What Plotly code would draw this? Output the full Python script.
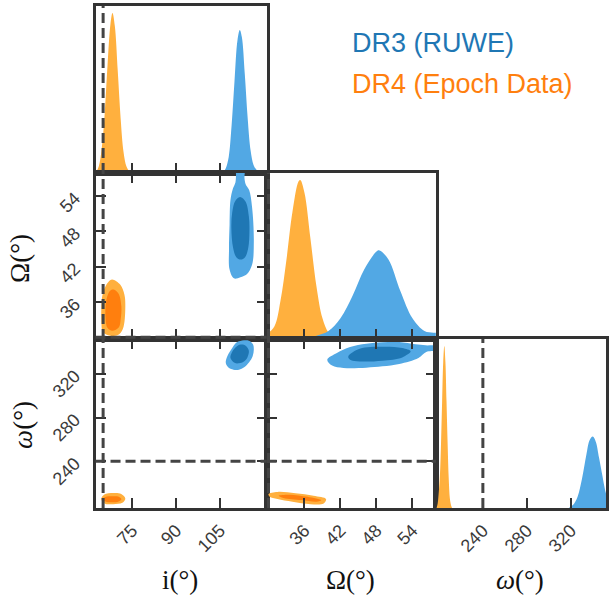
import plotly.graph_objects as go

W, H = 609, 599

# ---------------- data ----------------
# tick values
i_ticks = [75, 90, 105]
Om_ticks = [36, 42, 48, 54]
om_ticks = [240, 280, 320]

# axis ranges (deg)
i_range = [62.4, 121.0]
Om_range = [29.7, 57.9]
om_range = [197.3, 351.8]

# reference ("truth") values shown as dashed lines
i_true = 65
Om_true = 30
om_true = 240

# 1D marginals (relative density)
i_x_dr4 = [62.5, 63.5, 64.5, 65.5, 66.5, 67.5, 68.2, 69.0, 70.0, 71.0, 72.0, 73.0, 74.0, 75.0]
i_y_dr4 = [0.0, 0.04, 0.15, 0.36, 0.67, 0.93, 1.0, 0.92, 0.64, 0.34, 0.13, 0.04, 0.01, 0.0]
i_x_dr3 = [106.0, 107.0, 108.0, 109.0, 110.0, 111.0, 111.8, 112.5, 113.5, 114.5, 115.5, 116.5, 117.5, 118.5, 119.5]
i_y_dr3 = [0.0, 0.03, 0.10, 0.30, 0.58, 0.83, 0.894, 0.85, 0.62, 0.34, 0.14, 0.05, 0.02, 0.01, 0.0]

Om_x_dr4 = [29.7, 31.0, 32.0, 33.0, 34.0, 35.0, 35.3, 36.0, 37.0, 38.0, 39.0, 40.0, 41.0, 42.0]
Om_y_dr4 = [0.03, 0.08, 0.24, 0.50, 0.80, 0.99, 1.0, 0.92, 0.63, 0.33, 0.13, 0.04, 0.01, 0.0]
Om_x_dr3 = [36.0, 38.0, 40.0, 42.0, 44.0, 46.0, 48.0, 48.5, 50.0, 52.0, 54.0, 56.0, 57.5, 58.5]
Om_y_dr3 = [0.0, 0.02, 0.05, 0.13, 0.27, 0.44, 0.55, 0.557, 0.50, 0.30, 0.13, 0.05, 0.04, 0.04]

om_x_dr4 = [198.0, 199.0, 200.0, 201.0, 202.0, 203.0, 204.0, 205.0, 206.0, 207.0, 208.0, 209.0, 210.0, 211.0, 212.0]
om_y_dr4 = [0.0, 0.03, 0.10, 0.20, 0.40, 0.66, 0.90, 1.0, 0.90, 0.66, 0.40, 0.18, 0.06, 0.02, 0.0]
om_x_dr3 = [318.0, 322.0, 326.0, 330.0, 334.0, 337.0, 339.8, 342.5, 345.5, 348.5, 351.0, 354.0]
om_y_dr3 = [0.0, 0.02, 0.07, 0.18, 0.33, 0.42, 0.441, 0.41, 0.31, 0.20, 0.11, 0.04]

# 2D credible-region outlines (x, y)
iOm_dr3_outer = [(110.6, 59.0), (113.3, 59.0), (113.4, 57.0), (113.8, 56.0), (115.0, 55.0), (116.0, 52.1),
                 (116.6, 46.3), (116.0, 42.3), (114.2, 40.7), (112.0, 40.2), (109.8, 40.0), (108.3, 41.5),
                 (108.1, 45.0), (108.3, 49.2), (108.6, 53.3), (109.4, 55.2), (110.3, 56.3), (110.5, 57.5)]
iOm_dr3_inner = [(112.1, 53.8), (113.8, 53.0), (114.9, 50.5), (115.1, 48.0), (114.7, 45.2), (113.6, 43.6),
                 (112.1, 43.2), (110.6, 43.6), (109.5, 45.2), (108.9, 48.6), (109.2, 51.2), (110.3, 53.2)]
iOm_dr4_outer = [(68.1, 39.8), (70.9, 38.9), (72.3, 37.2), (72.6, 35.5), (72.0, 31.8), (70.5, 30.5),
                 (68.6, 30.2), (66.5, 30.4), (64.9, 30.9), (64.4, 33.0), (64.4, 35.2), (64.8, 37.2),
                 (65.8, 38.6), (66.8, 39.4)]
iOm_dr4_inner = [(68.6, 38.1), (70.3, 37.4), (71.25, 35.2), (71.0, 33.0), (70.4, 31.7), (68.1, 31.1),
                 (66.5, 31.6), (65.8, 33.5), (65.9, 35.5), (66.4, 36.9), (67.4, 37.9)]

iom_dr3_outer = [(111.5, 349.7), (114.9, 350.3), (116.3, 347.0), (116.6, 342.1), (116.2, 336.0), (115.0, 330.5),
                 (113.3, 326.0), (111.5, 323.7), (109.6, 323.8), (108.1, 325.2), (107.0, 329.8), (107.6, 336.5),
                 (109.2, 343.6), (110.2, 347.5)]
iom_dr3_inner = [(112.1, 346.7), (113.9, 345.5), (114.9, 341.0), (114.4, 335.0), (113.2, 331.3), (111.5, 329.6),
                 (110.0, 330.0), (108.6, 334.4), (109.0, 339.0), (110.3, 344.0)]
iom_dr4_outer = [(68.5, 211.0), (71.2, 210.2), (72.6, 206.0), (71.6, 202.0), (68.5, 200.8), (65.5, 201.5),
                 (64.4, 205.5), (65.4, 209.6)]
iom_dr4_inner = [(68.0, 208.0), (70.5, 207.4), (71.25, 205.3), (70.3, 203.2), (68.0, 202.5), (65.8, 203.2),
                 (64.8, 205.3), (65.8, 207.4)]

Omom_dr3_outer = [(39.8, 332.9), (41.4, 339.0), (43.6, 344.5), (46.3, 347.5), (49.0, 348.8), (51.8, 349.0),
                  (54.5, 347.0), (56.2, 346.0), (58.0, 345.5), (58.0, 341.5), (56.3, 340.0), (55.0, 334.5),
                  (51.8, 329.0), (49.0, 326.8), (46.3, 325.6), (42.5, 325.4), (40.6, 327.6)]
Omom_dr3_inner = [(43.3, 335.9), (45.2, 343.0), (49.0, 344.8), (52.3, 343.6), (53.7, 340.5), (52.3, 335.0),
                  (49.0, 332.0), (45.2, 331.3), (43.6, 332.9)]
Omom_dr4_outer = [(30.0, 210.0), (31.5, 212.0), (34.5, 210.8), (37.5, 208.5), (39.6, 205.5), (39.2, 201.5),
                  (37.0, 200.8), (34.0, 203.0), (31.5, 205.5), (30.2, 207.5)]
Omom_dr4_inner = [(31.7, 208.5), (33.5, 209.5), (36.5, 207.5), (38.8, 204.3), (38.0, 203.0), (35.5, 204.5),
                  (32.5, 206.5)]

labels = ["DR3 (RUWE)", "DR4 (Epoch Data)"]

# ---------------- style ----------------
BLUE_L, BLUE_D = "#52A8E4", "#1F77B4"
ORNG_L, ORNG_D = "#FFB03E", "#FF7F0E"
FRAME = "#333333"
DASH = "#444444"

cols = [(96, 268), (268, 438), (438, 609)]
rows = [(6, 173), (173, 339), (339, 508)]


def xd(c):
    return [cols[c][0] / W, cols[c][1] / W]


def yd(r):
    return [1 - rows[r][1] / H, 1 - rows[r][0] / H]


fig = go.Figure()


def hist(xs, ys, color, ax):
    fig.add_trace(go.Scatter(x=xs, y=ys, mode="lines", fill="tozeroy", fillcolor=color,
                             line=dict(width=0, shape="spline", color=color),
                             xaxis="x" + ax, yaxis="y" + ax, showlegend=False, hoverinfo="skip"))


def region(pts, color, ax):
    xs = [p[0] for p in pts] + [pts[0][0]]
    ys = [p[1] for p in pts] + [pts[0][1]]
    fig.add_trace(go.Scatter(x=xs, y=ys, mode="lines", fill="toself", fillcolor=color,
                             line=dict(width=0, shape="spline", smoothing=1.0, color=color),
                             xaxis="x" + ax, yaxis="y" + ax, showlegend=False, hoverinfo="skip"))


# panel 1: i marginal
hist(i_x_dr4, i_y_dr4, ORNG_L, "")
hist(i_x_dr3, i_y_dr3, BLUE_L, "")
# panel 2: i vs Omega
region(iOm_dr3_outer, BLUE_L, "2"); region(iOm_dr3_inner, BLUE_D, "2")
region(iOm_dr4_outer, ORNG_L, "2"); region(iOm_dr4_inner, ORNG_D, "2")
# panel 3: Omega marginal
hist(Om_x_dr4, Om_y_dr4, ORNG_L, "3")
hist(Om_x_dr3, Om_y_dr3, BLUE_L, "3")
# panel 4: i vs omega
region(iom_dr3_outer, BLUE_L, "4"); region(iom_dr3_inner, BLUE_D, "4")
region(iom_dr4_outer, ORNG_L, "4"); region(iom_dr4_inner, ORNG_D, "4")
# panel 5: Omega vs omega
region(Omom_dr3_outer, BLUE_L, "5"); region(Omom_dr3_inner, BLUE_D, "5")
region(Omom_dr4_outer, ORNG_L, "5"); region(Omom_dr4_inner, ORNG_D, "5")
# panel 6: omega marginal
hist(om_x_dr4, om_y_dr4, ORNG_L, "6")
hist(om_x_dr3, om_y_dr3, BLUE_L, "6")

tickfont = dict(family="Liberation Sans, Arial, sans-serif", size=18, color="#3a3a3a")
base = dict(showline=True, linecolor=FRAME, linewidth=3, showgrid=False, zeroline=False,
            tickcolor=FRAME, tickwidth=2, ticklen=10, tickfont=tickfont, tickangle=-45)


def xax(c, rng, tv, labels_on, mirror_ticks, anchor):
    d = dict(base, domain=xd(c), range=rng, tickvals=tv, ticks="inside",
             mirror="allticks" if mirror_ticks else True, showticklabels=labels_on, anchor=anchor,
             ticklabelstandoff=2)
    return d


def yax(r, rng, tv, labels_on, anchor, diag=False):
    d = dict(base, domain=yd(r), range=rng, anchor=anchor)
    if diag:
        d.update(ticks="", showticklabels=False, mirror=True)
    else:
        d.update(tickvals=tv, ticks="inside", mirror="allticks", showticklabels=labels_on,
                 ticklabelstandoff=14)
    return d


hrange = [0, 1.044]
fig.update_layout(
    xaxis=xax(0, i_range, i_ticks, False, False, "y"),
    yaxis=yax(0, hrange, None, False, "x", diag=True),
    xaxis2=xax(0, i_range, i_ticks, False, True, "y2"),
    yaxis2=yax(1, Om_range, Om_ticks, True, "x2"),
    xaxis3=xax(1, Om_range, Om_ticks, False, False, "y3"),
    yaxis3=yax(1, hrange, None, False, "x3", diag=True),
    xaxis4=xax(0, i_range, i_ticks, True, True, "y4"),
    yaxis4=yax(2, om_range, om_ticks, True, "x4"),
    xaxis5=xax(1, Om_range, Om_ticks, True, True, "y5"),
    yaxis5=yax(2, om_range, om_ticks, False, "x5"),
    xaxis6=xax(2, om_range, om_ticks, True, False, "y6"),
    yaxis6=yax(2, hrange, None, False, "x6", diag=True),
)

# dashed truth lines
dash = dict(color=DASH, width=3, dash="10px,5px")
vlines = [("x", "y", i_true), ("x2", "y2", i_true), ("x4", "y4", i_true),
          ("x3", "y3", Om_true), ("x5", "y5", Om_true), ("x6", "y6", om_true)]
for xr, yr, v in vlines:
    fig.add_shape(type="line", xref=xr, yref=yr + " domain", x0=v, x1=v, y0=0, y1=1, line=dash, layer="above")
hlines = [("x2", "y2", Om_true), ("x4", "y4", om_true), ("x5", "y5", om_true)]
for xr, yr, v in hlines:
    fig.add_shape(type="line", xref=xr + " domain", yref=yr, x0=0, x1=1, y0=v, y1=v, line=dash, layer="above")

serif = "Liberation Serif, Times New Roman, serif"
ann = []


def add_text(txt, px, py, size, color, family, angle=0, xanchor="center"):
    ann.append(dict(text=txt, x=px / W, y=1 - py / H, xref="paper", yref="paper", showarrow=False,
                    xanchor=xanchor, yanchor="middle", textangle=angle,
                    font=dict(size=size, color=color, family=family)))


add_text("i(°)", 181, 580, 27, "#111111", serif)
add_text("Ω(°)", 352, 580, 27, "#111111", serif)
add_text("<i>ω</i>(°)", 523, 580, 27, "#111111", serif)
add_text("Ω(°)", 20, 258, 27, "#111111", serif, angle=-90)
add_text("<i>ω</i>(°)", 23, 425, 27, "#111111", serif, angle=-90)

sans = "Liberation Sans, Arial, sans-serif"
add_text(labels[0], 352, 43, 27, BLUE_D, sans, xanchor="left")
add_text(labels[1], 352, 84, 27, ORNG_D, sans, xanchor="left")

fig.update_layout(annotations=ann, width=W, height=H, autosize=False,
                  margin=dict(l=0, r=0, t=0, b=0),
                  paper_bgcolor="white", plot_bgcolor="white", showlegend=False)

fig.write_html("out.html")
